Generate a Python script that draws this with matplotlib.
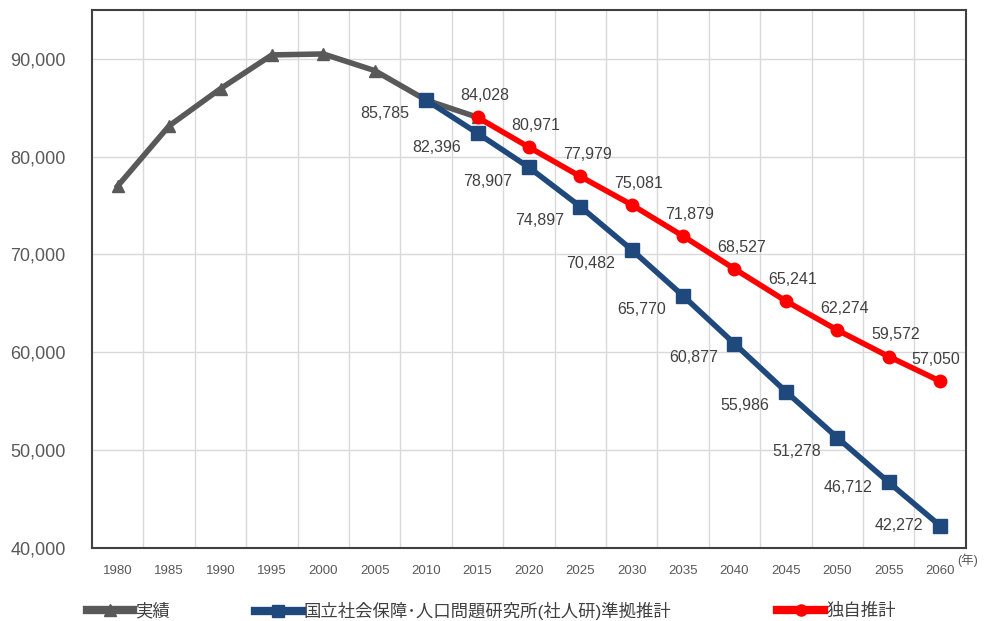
import matplotlib.pyplot as plt
from matplotlib.lines import Line2D

plt.rcParams['font.family'] = ['Liberation Sans', 'Noto Sans CJK JP', 'DejaVu Sans']

# 年次（5年刻み）
years = [1980, 1985, 1990, 1995, 2000, 2005, 2010, 2015, 2020, 2025,
         2030, 2035, 2040, 2045, 2050, 2055, 2060]

# 実績
actual_years = [1980, 1985, 1990, 1995, 2000, 2005, 2010, 2015]
actual = [77000, 83150, 86950, 90400, 90500, 88800, 85785, 84028]

# 社人研準拠推計
ipss_years = [2010, 2015, 2020, 2025, 2030, 2035, 2040, 2045, 2050, 2055, 2060]
ipss = [85785, 82396, 78907, 74897, 70482, 65770, 60877, 55986, 51278, 46712, 42272]

# 独自推計
own_years = [2015, 2020, 2025, 2030, 2035, 2040, 2045, 2050, 2055, 2060]
own = [84028, 80971, 77979, 75081, 71879, 68527, 65241, 62274, 59572, 57050]

gray = '#595959'
blue = '#1f497d'
red = '#ff0000'
text_c = '#404040'

def pos(y):
    return years.index(y)

fig = plt.figure(figsize=(9.84, 6.21), dpi=100)
ax = fig.add_axes([0.0935, 0.1176, 0.888, 0.8664])

ax.plot([pos(y) for y in actual_years], actual, color=gray, lw=4,
        marker='^', ms=9, zorder=3)
ax.plot([pos(y) for y in ipss_years], ipss, color=blue, lw=4,
        marker='s', ms=10, zorder=4)
ax.plot([pos(y) for y in own_years], own, color=red, lw=4,
        marker='o', ms=9, zorder=5)

# 数値ラベル（社人研：左下、独自：上）
n = len(ipss_years)
for i, (y, v) in enumerate(zip(ipss_years, ipss)):
    dy = -10
    if i == n - 2:
        dy = -4
    elif i == n - 1:
        dy = 0
    ax.annotate(f'{v:,}', (pos(y), v), xytext=(-12, dy), textcoords='offset points',
                ha='right', va='center', fontsize=11.5, color=text_c)
for i, (y, v) in enumerate(zip(own_years, own)):
    dx = -3 if i == len(own_years) - 1 else 5
    ax.annotate(f'{v:,}', (pos(y), v), xytext=(dx, 15.5), textcoords='offset points',
                ha='center', va='center', fontsize=11.5, color=text_c)

ax.set_xlim(-0.5, len(years) - 0.5)
ax.set_ylim(40000, 95000)
ax.set_yticks(range(40000, 95000, 10000))
ax.set_yticklabels([f'{v:,}' for v in range(40000, 95000, 10000)])
ax.set_xticks(range(len(years)))
ax.set_xticklabels([str(y) for y in years])
ax.set_xticks([i + 0.5 for i in range(len(years) - 1)], minor=True)

ax.grid(which='minor', axis='x', color='#d9d9d9', lw=1)
ax.grid(which='major', axis='y', color='#d9d9d9', lw=1)
ax.set_axisbelow(True)
ax.tick_params(axis='x', which='both', length=0, labelsize=9.5, colors=gray, pad=12)
ax.tick_params(axis='y', length=0, labelsize=13, colors=gray, pad=19)
for s in ax.spines.values():
    s.set_color('#404040')
    s.set_linewidth(1.5)

ax.text(0.99, -0.022, '(年)', transform=ax.transAxes, fontsize=9,
        color=gray, ha='left', va='center')

# 凡例（項目ごとに位置を変えて配置）
entries = [
    (Line2D([], [], color=gray, lw=6, marker='^', ms=9), '実績', 0.088),
    (Line2D([], [], color=blue, lw=6, marker='s', ms=8), '国立社会保障･人口問題研究所(社人研)準拠推計', 0.259),
    (Line2D([], [], color=red, lw=6, marker='o', ms=8), '独自推計', 0.79),
]
for handle, label, x in entries:
    fig.legend([handle], [label], loc='center left', bbox_to_anchor=(x, 0.016),
               frameon=False, fontsize=12.5, handlelength=2.7, handletextpad=0.1,
               borderpad=0, borderaxespad=0, labelcolor=text_c)

fig.savefig('out.png', dpi=100)
